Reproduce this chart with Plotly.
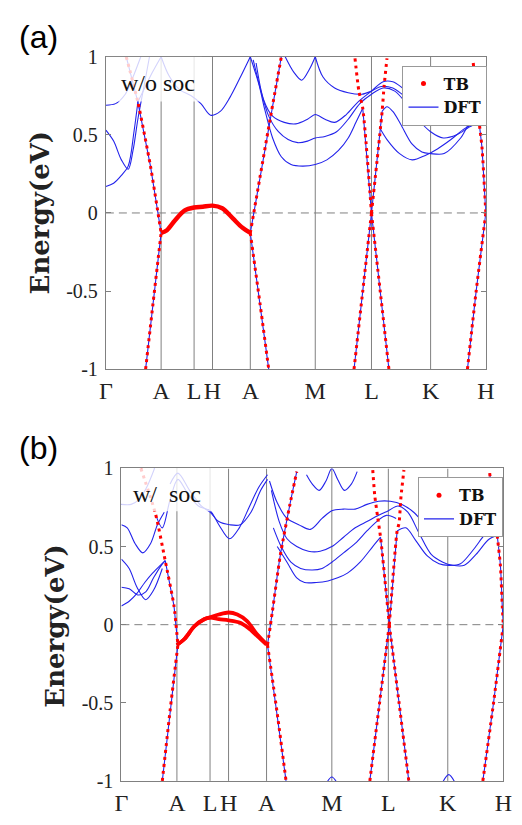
import plotly.graph_objects as go

# k-path (arbitrary units along the path) and labels
K_TICKS = [0, 57, 91, 110, 149, 216, 274, 335, 392]
K_LABELS = ["Γ", "A", "L", "H", "A", "M", "L", "K", "H"]
E_TICKS = [-1, -0.5, 0, 0.5, 1]
E_LABELS = ["-1", "-0.5", "0", "0.5", "1"]

# ---------------- (a) without SOC ----------------
# bands near the Fermi level (TB and DFT coincide)
A_FLAT = [[57, 63, 71, 81, 91, 100, 110, 120, 131, 141, 149],
          [-0.128, -0.11, -0.05, 0.015, 0.035, 0.04, 0.047, 0.03, -0.035, -0.095, -0.128]]
A_S1 = [[21, 33, 46, 57], [1.0, 0.71, 0.30, -0.128]]
A_S2 = [[41, 49, 57], [-1.0, -0.56, -0.128]]
A_S3 = [[149, 159, 168], [-0.128, -0.58, -1.0]]
A_S4 = [[149, 159, 170, 181], [-0.128, 0.23, 0.62, 1.0]]
A_S5 = [[256, 265, 274], [-1.0, -0.5, 0.0]]
A_S6 = [[274, 283, 292], [0.0, -0.5, -1.0]]
A_S7 = [[257, 261, 265, 274], [0.99, 0.78, 0.67, 0.0]]
A_S8 = [[274, 285, 287, 290], [0.0, 0.65, 0.81, 0.99]]
A_S9 = [[373, 382, 392], [-1.0, -0.5, 0.0]]
A_S10 = [[379, 383, 388, 391, 392], [0.96, 0.69, 0.42, 0.11, 0.0]]

# DFT-only segments
A_D7 = [[265, 274], [0.67, 0.0]]
A_D8 = [[274, 285], [0.0, 0.65]]
A_G1 = [[0, 10, 20, 28, 36], [0.69, 0.70, 0.76, 0.87, 1.0]]
A_G2 = [[0, 8, 16, 23, 28, 33, 39, 45], [0.53, 0.46, 0.34, 0.28, 0.40, 0.60, 0.80, 1.0]]
A_G3 = [[0, 8, 16, 23, 29, 33], [0.17, 0.19, 0.24, 0.30, 0.52, 0.71]]
A_G4 = [[33, 40, 48, 57], [0.71, 0.80, 0.90, 1.0]]
A_G5 = [[57, 65, 76, 88, 98, 108, 118, 128, 138, 149],
        [1.0, 0.88, 0.79, 0.75, 0.70, 0.626, 0.65, 0.74, 0.86, 1.0]]
A_R1 = [[149, 158, 164, 172, 181, 191, 203, 216, 228, 240, 250, 258, 265],
        [1.0, 0.82, 0.66, 0.48, 0.36, 0.31, 0.30, 0.31, 0.34, 0.40, 0.48, 0.58, 0.67]]
A_R2 = [[152, 160, 168, 178, 188, 198, 208, 216, 226, 238, 250, 262, 274, 286, 298, 310, 322, 335, 348, 362, 378, 392],
        [0.98, 0.78, 0.62, 0.52, 0.47, 0.45, 0.46, 0.48, 0.49, 0.52, 0.60, 0.70, 0.76, 0.80, 0.78, 0.70, 0.60, 0.52, 0.48, 0.50, 0.56, 0.58]]
A_R3 = [[155, 163, 172, 184, 196, 208, 216, 226, 236, 248, 260, 274, 286, 296, 306, 318, 330, 340, 350, 362, 376, 392],
        [0.96, 0.72, 0.62, 0.58, 0.57, 0.60, 0.63, 0.60, 0.58, 0.63, 0.71, 0.78, 0.84, 0.84, 0.80, 0.74, 0.69, 0.66, 0.62, 0.60, 0.62, 0.64]]
A_R4 = [[285, 290, 296, 304, 316, 326, 335, 349, 366, 381, 392],
        [0.65, 0.68, 0.65, 0.57, 0.44, 0.39, 0.38, 0.38, 0.48, 0.63, 0.63]]
A_R5 = [[282, 290, 303, 316, 330, 342, 356, 370, 384, 392],
        [0.55, 0.47, 0.38, 0.34, 0.37, 0.41, 0.47, 0.54, 0.58, 0.58]]
A_U1 = [[185, 194, 202, 210, 216], [1.0, 0.90, 0.85, 0.92, 1.0]]
A_U2 = [[216, 224, 236, 250, 264, 274, 284, 296, 310, 324, 335, 348, 362, 378, 392],
        [1.0, 0.87, 0.80, 0.77, 0.76, 0.78, 0.81, 0.80, 0.74, 0.70, 0.68, 0.67, 0.68, 0.70, 0.72]]

# ---------------- (b) with SOC ----------------
B_FLAT_U = [[57, 65, 75, 85, 91, 100, 110, 119, 129, 139, 149],
            [-0.13, -0.09, -0.01, 0.035, 0.047, 0.065, 0.078, 0.065, 0.023, -0.06, -0.125]]
B_FLAT_L = [[57, 65, 75, 85, 91, 100, 110, 122, 130, 139, 149],
            [-0.13, -0.09, -0.01, 0.035, 0.045, 0.035, 0.028, 0.012, -0.02, -0.07, -0.128]]
B_S1 = [[20, 35, 45, 54, 58], [1.0, 0.71, 0.41, 0.12, -0.13]]
B_S2 = [[42, 50, 58], [-1.0, -0.55, -0.13]]
B_S3 = [[150, 160, 169], [-0.13, -0.57, -1.0]]
B_S4 = [[150, 155, 163, 173, 180], [-0.13, 0.085, 0.44, 0.77, 0.98]]
B_S5 = [[255, 265, 275], [-1.0, -0.5, 0.0]]
B_S6 = [[275, 285, 295], [0.0, -0.5, -1.0]]
B_S7 = [[258, 260, 263, 266, 275], [0.99, 0.83, 0.69, 0.56, 0.0]]
B_S8 = [[275, 283, 285, 287, 290], [0.0, 0.60, 0.65, 0.82, 0.99]]
B_S9 = [[371, 382, 392], [-1.0, -0.5, 0.0]]
B_S10 = [[378, 385, 389, 391, 392], [0.97, 0.61, 0.38, 0.11, 0.0]]

B_D1 = [[45, 54, 58], [0.41, 0.12, -0.13]]
B_D7 = [[266, 275], [0.56, 0.0]]
B_D8 = [[275, 283], [0.0, 0.60]]
B_G1 = [[0, 10, 18, 26, 34], [0.77, 0.77, 0.80, 0.88, 1.0]]
B_G2 = [[0, 6, 14, 22, 30, 37, 44], [0.64, 0.62, 0.52, 0.46, 0.52, 0.64, 0.72]]
B_G3 = [[0, 8, 16, 25, 33, 42], [0.42, 0.36, 0.24, 0.16, 0.22, 0.36]]
B_G4 = [[0, 8, 17, 25, 33, 41, 45], [0.24, 0.23, 0.19, 0.21, 0.30, 0.38, 0.41]]
B_G5 = [[0, 8, 16, 24, 32, 40, 45], [0.12, 0.15, 0.20, 0.27, 0.33, 0.38, 0.41]]
B_G6 = [[36, 42, 50, 58, 68, 79, 91, 100, 111, 121, 131, 141, 150],
        [0.69, 0.62, 0.80, 0.93, 0.84, 0.76, 0.73, 0.64, 0.55, 0.62, 0.75, 0.88, 0.96]]
B_G7 = [[50, 58, 70, 82, 91, 100, 111, 122, 133, 143, 150],
        [0.90, 0.97, 0.86, 0.76, 0.72, 0.66, 0.64, 0.64, 0.72, 0.86, 0.93]]
B_R1 = [[160, 170, 180, 188, 200, 212, 222, 232, 245, 258, 266],
        [0.50, 0.40, 0.30, 0.27, 0.27, 0.28, 0.30, 0.33, 0.40, 0.50, 0.56]]
B_R2 = [[156, 164, 174, 184, 196, 206, 216, 228, 240, 252, 262, 272, 282],
        [0.62, 0.50, 0.40, 0.36, 0.35, 0.36, 0.40, 0.46, 0.52, 0.60, 0.66, 0.70, 0.68]]
B_R3 = [[154, 162, 170, 180, 192, 204, 216, 228, 240, 252, 264, 274, 284, 294, 306, 318, 330, 340, 352, 364, 378, 392],
        [0.86, 0.66, 0.55, 0.50, 0.47, 0.47, 0.50, 0.56, 0.62, 0.66, 0.70, 0.73, 0.76, 0.72, 0.58, 0.45, 0.40, 0.38, 0.38, 0.45, 0.55, 0.58]]
B_R4 = [[152, 160, 170, 182, 194, 206, 216, 228, 240, 252, 264, 276, 288, 300, 312, 324, 336, 350, 364, 378, 392],
        [0.92, 0.78, 0.68, 0.64, 0.61, 0.68, 0.73, 0.74, 0.74, 0.77, 0.79, 0.79, 0.77, 0.72, 0.64, 0.58, 0.58, 0.60, 0.66, 0.70, 0.72]]
B_R5 = [[283, 292, 302, 314, 326, 336, 348, 360, 372, 384, 392],
        [0.60, 0.62, 0.54, 0.44, 0.39, 0.38, 0.39, 0.47, 0.57, 0.66, 0.68]]
B_U1 = [[190, 196, 203, 210, 216, 222, 229, 236, 242],
        [0.96, 0.90, 0.86, 0.92, 1.0, 0.93, 0.86, 0.90, 0.98]]
B_M_ARC = [[209, 216, 223], [-1.03, -0.975, -1.03]]
B_K_ARC = [[328, 336, 344], [-1.03, -0.96, -1.03]]

TB_A = [A_S1, A_S2, A_S3, A_S4, A_S5, A_S6, A_S7, A_S8, A_S9, A_S10]
DFT_A_STRAIGHT = [A_S1, A_S2, A_S3, A_S4, A_S5, A_S6, A_D7, A_D8, A_S9, A_S10]
DFT_A_CURVED = [A_G1, A_G2, A_G3, A_G4, A_G5, A_R1, A_R2, A_R3, A_R4, A_R5, A_U1, A_U2, A_FLAT]
FLAT_A = [A_FLAT]

TB_B = [B_S1, B_S2, B_S3, B_S4, B_S5, B_S6, B_S7, B_S8, B_S9, B_S10]
DFT_B_STRAIGHT = [B_D1, B_S2, B_S3, B_S5, B_S6, B_D7, B_D8, B_S9]
DFT_B_CURVED = [B_S4, B_S10, B_G1, B_G2, B_G3, B_G4, B_G5, B_G6, B_G7, B_R1, B_R2, B_R3,
                B_R4, B_R5, B_U1, B_M_ARC, B_K_ARC, B_FLAT_U, B_FLAT_L]
FLAT_B = [B_FLAT_U, B_FLAT_L]

BLUE = "rgb(35,35,235)"
RED = "rgb(255,0,0)"
GRID = "rgb(128,128,128)"

fig = go.Figure()


def draw_panel(xa, ya, dft_straight, dft_curved, tb, flat, flat_width, leg):
    for k, e in dft_straight:
        fig.add_trace(go.Scatter(x=k, y=e, xaxis=xa, yaxis=ya, mode="lines",
                                 line=dict(color=BLUE, width=1.1), showlegend=False,
                                 hoverinfo="skip"))
    for k, e in dft_curved:
        fig.add_trace(go.Scatter(x=k, y=e, xaxis=xa, yaxis=ya, mode="lines",
                                 line=dict(color=BLUE, width=1.1, shape="spline", smoothing=0.9),
                                 showlegend=False, hoverinfo="skip"))
    for k, e in tb:
        fig.add_trace(go.Scatter(x=k, y=e, xaxis=xa, yaxis=ya, mode="lines",
                                 line=dict(color=RED, width=3, dash="3px,4px", shape="spline",
                                           smoothing=0.6),
                                 showlegend=False, hoverinfo="skip"))
    for k, e in flat:
        fig.add_trace(go.Scatter(x=k, y=e, xaxis=xa, yaxis=ya, mode="lines",
                                 line=dict(color=RED, width=flat_width, shape="spline",
                                           smoothing=0.9),
                                 showlegend=False, hoverinfo="skip"))
    fig.add_trace(go.Scatter(x=[None], y=[None], xaxis=xa, yaxis=ya, mode="markers",
                             marker=dict(color=RED, size=5), name="<b>TB</b>", legend=leg))
    fig.add_trace(go.Scatter(x=[None], y=[None], xaxis=xa, yaxis=ya, mode="lines",
                             line=dict(color=BLUE, width=1.3), name="<b>DFT</b>", legend=leg))


draw_panel("x", "y", DFT_A_STRAIGHT, DFT_A_CURVED, TB_A, FLAT_A, 4.4, "legend")
draw_panel("x2", "y2", DFT_B_STRAIGHT, DFT_B_CURVED, TB_B, FLAT_B, 3.8, "legend2")

W, H = 522, 825


def xaxis_cfg(x0, x1, anchor):
    return dict(domain=[x0 / W, x1 / W], range=[0, 392], anchor=anchor,
                showgrid=False, zeroline=False, showline=True, mirror=True,
                linecolor=GRID, linewidth=1, ticks="", tickvals=K_TICKS,
                ticktext=K_LABELS, ticklabelstandoff=0,
                tickfont=dict(family="Liberation Serif", size=24, color="#222"))


def yaxis_cfg(y0, y1, anchor):
    return dict(domain=[1 - y1 / H, 1 - y0 / H], range=[-1, 1], anchor=anchor,
                showgrid=False, zeroline=False, showline=True, mirror="ticks",
                linecolor=GRID, linewidth=1, ticks="inside", ticklen=5, tickcolor=GRID,
                tickvals=E_TICKS, ticktext=E_LABELS, ticklabelstandoff=3,
                tickfont=dict(family="Liberation Serif", size=20, color="#222"))


shapes = []
for xr, yr in (("x", "y"), ("x2", "y2")):
    for kt in K_TICKS[1:-1]:
        shapes.append(dict(type="line", xref=xr, yref=yr, x0=kt, x1=kt, y0=-1, y1=1,
                           line=dict(color=GRID, width=1), layer="below"))
    shapes.append(dict(type="line", xref=xr, yref=yr, x0=0, x1=392, y0=0, y1=0,
                       line=dict(color=GRID, width=1, dash="8px,5px"), layer="below"))

# translucent label boxes in the top-left corner
shapes.append(dict(type="rect", xref="x", yref="y", x0=0, x1=99, y0=0.713, y1=1.0,
                   fillcolor="rgba(255,255,255,0.8)", line=dict(width=0), layer="above"))
shapes.append(dict(type="rect", xref="x2", yref="y2", x0=0, x1=97, y0=0.726, y1=1.0,
                   fillcolor="rgba(255,255,255,0.8)", line=dict(width=0), layer="above"))

serif = "Liberation Serif"


def label(text, x, y, size, family, angle=0, color="#111"):
    return dict(text=text, x=x / W, y=1 - y / H, xref="paper", yref="paper",
                xanchor="center", yanchor="middle", textangle=angle, showarrow=False,
                font=dict(family=family, size=size, color=color))


annotations = [
    label("w/o soc", 156, 74, 24, serif),
    label("w/  soc", 165, 496, 24, serif),
    label("<b>Energy(eV)</b>", 35, 207, 26, "DejaVu Serif", -90, "#222"),
    label("<b>Energy(eV)</b>", 50, 631, 26, "DejaVu Serif", -90, "#222"),
    label("(a)", 33, 27, 32, "Liberation Sans", 0, "#000"),
    label("(b)", 33, 449, 32, "Liberation Sans", 0, "#000"),
]

legend_style = dict(xanchor="left", yanchor="top", bgcolor="white", bordercolor="#999",
                    borderwidth=1, font=dict(family="DejaVu Serif", size=16, color="#111"),
                    tracegroupgap=0, itemwidth=30)

fig.update_layout(
    width=W, height=H, margin=dict(l=0, r=0, t=0, b=0),
    plot_bgcolor="white", paper_bgcolor="white",
    xaxis=xaxis_cfg(102, 494, "y"), yaxis=yaxis_cfg(47, 368, "x"),
    xaxis2=xaxis_cfg(118, 512, "y2"), yaxis2=yaxis_cfg(470, 791, "x2"),
    shapes=shapes, annotations=annotations,
    legend=dict(x=408 / W, y=1 - 56 / H, **legend_style),
    legend2=dict(x=424 / W, y=1 - 479 / H, **legend_style),
)

fig.write_html("out.html")
